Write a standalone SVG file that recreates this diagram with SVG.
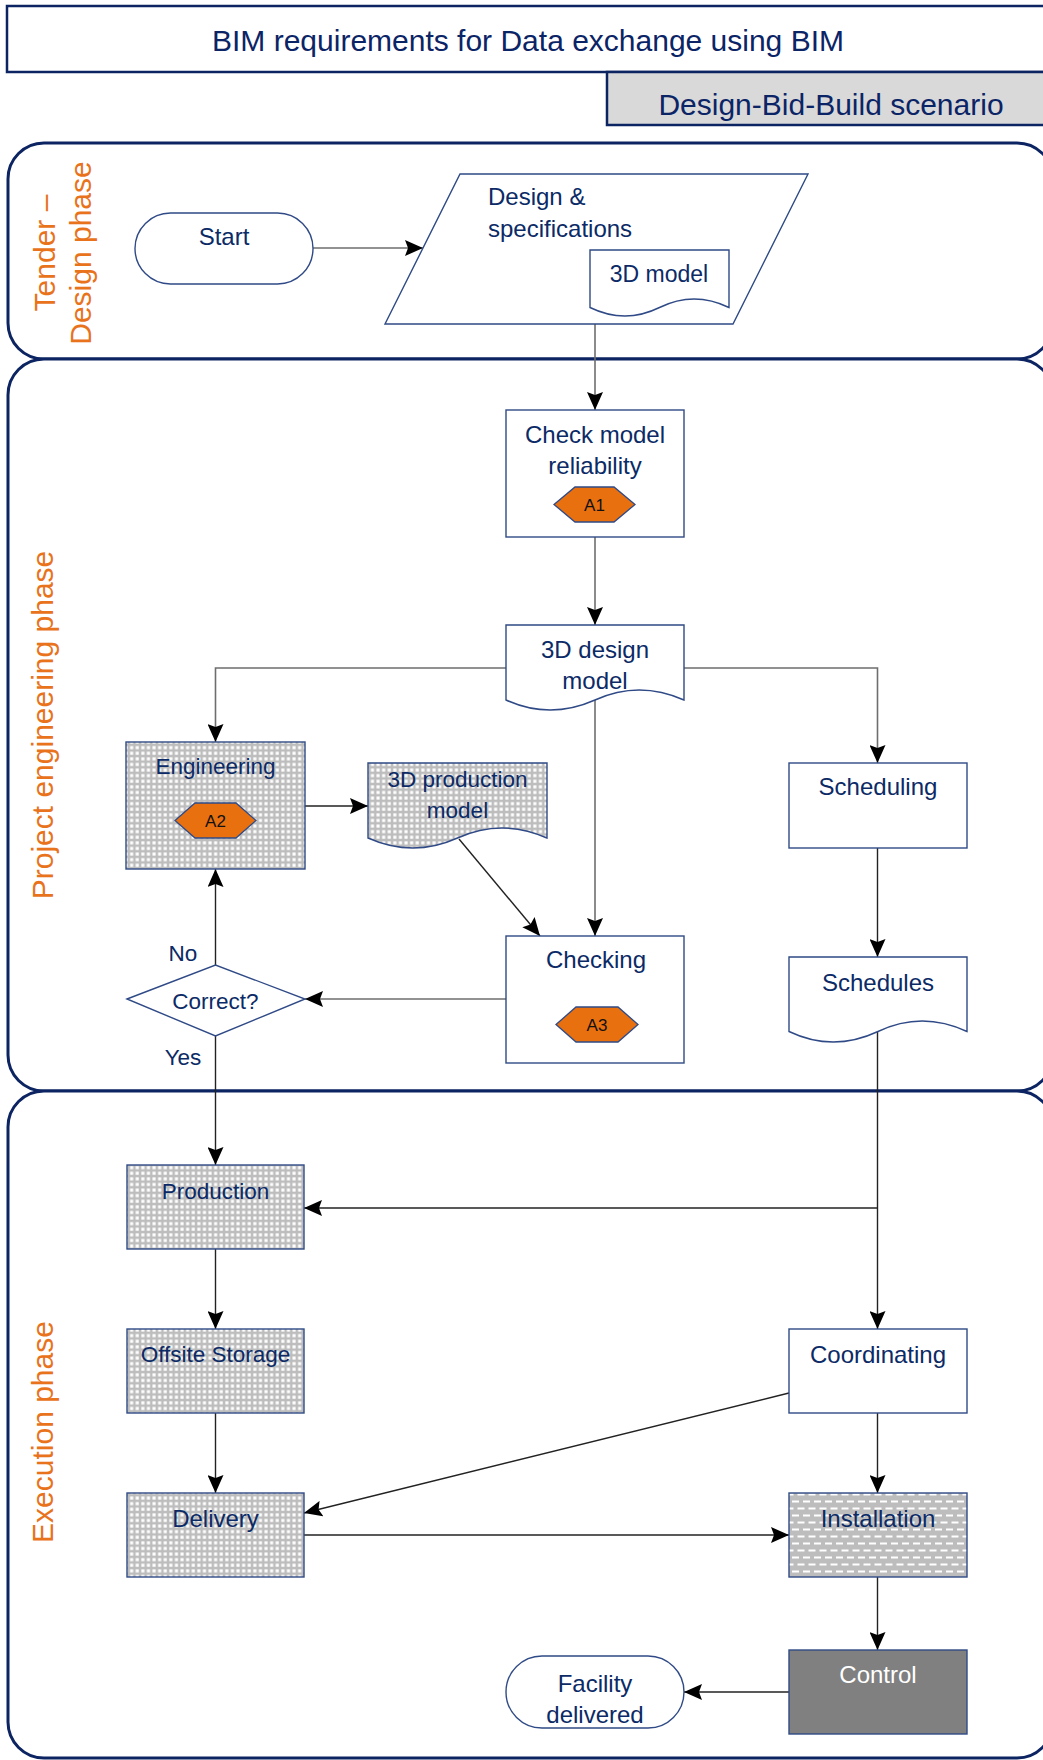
<svg xmlns="http://www.w3.org/2000/svg" width="1043" height="1760" viewBox="0 0 1043 1760">
  <defs>
    <style>
      .lane { fill: #fff; stroke: #0c2461; stroke-width: 3; }
      .lane-label { font-family: "Liberation Sans", Arial, sans-serif; font-size: 30px; fill: #e8731c; text-anchor: middle; }
      .head { font-family: "Liberation Sans", Arial, sans-serif; font-size: 30px; fill: #0b2466; text-anchor: middle; }
      .box { fill: #fff; stroke: #2f4a86; stroke-width: 1.4; }
      .dots { fill: url(#dots); stroke: #2f4a86; stroke-width: 1.4; }
      .dashes { fill: url(#dashes); stroke: #2f4a86; stroke-width: 1.4; }
      .dark { fill: #808080; stroke: #2f4a86; stroke-width: 1.4; }
      .hex { fill: #e8700f; stroke: #2f4a86; stroke-width: 1.3; }
      .t { font-family: "Liberation Sans", Arial, sans-serif; font-size: 24px; fill: #0b2a66; text-anchor: middle; }
      .ts { font-size: 22.5px; }
      .tl { text-anchor: start; }
      .tw { fill: #fff; }
      .tag { font-family: "Liberation Sans", Arial, sans-serif; font-size: 17px; fill: #111; text-anchor: middle; }
      .c { fill: none; stroke: #222; stroke-width: 1.4; }
      .g { fill: none; stroke: #6e6e6e; stroke-width: 1.6; }
    </style>
    <pattern id="dots" width="5.6" height="5.6" patternUnits="userSpaceOnUse">
      <rect width="5.6" height="5.6" fill="#bdbdbd"/>
      <rect x="1.3" y="1.3" width="3.1" height="3.1" fill="#fff"/>
    </pattern>
    <pattern id="dashes" width="11" height="14" patternUnits="userSpaceOnUse">
      <rect width="11" height="14" fill="#bdbdbd"/>
      <rect x="0" y="2.5" width="7" height="2" fill="#fff"/>
      <rect x="5.5" y="9.5" width="5.5" height="2" fill="#fff"/>
      <rect x="0" y="9.5" width="1.5" height="2" fill="#fff"/>
    </pattern>
    <marker id="ah" markerWidth="18" markerHeight="16" refX="18" refY="8" orient="auto" markerUnits="userSpaceOnUse">
      <path d="M0,0 L18,8 L0,16 L3,8 Z" fill="#000"/>
    </marker>
  </defs>

  <rect width="1043" height="1760" fill="#fff"/>

  <!-- heading -->
  <g id="title">
    <rect x="7" y="6" width="1045" height="66" fill="#fff" stroke="#0c2461" stroke-width="2.5"/>
    <text class="head" x="528" y="51">BIM requirements for Data exchange using BIM</text>
  </g>
  <g id="scenario">
    <rect x="607" y="72" width="445" height="53" fill="#d9d9d9" stroke="#0c2461" stroke-width="2.5"/>
    <text class="head" x="831" y="115">Design-Bid-Build scenario</text>
  </g>

  <!-- swimlanes -->
  <g id="lanes">
    <path class="lane" d="M8,179 A36,36 0 0 1 44,143 H1017 A36,36 0 0 1 1053,179 V323 A36,36 0 0 1 1017,359 H44 A36,36 0 0 1 8,323 Z"/>
    <path class="lane" d="M8,395 A36,36 0 0 1 44,359 H1017 A36,36 0 0 1 1053,395 V1055 A36,36 0 0 1 1017,1091 H44 A36,36 0 0 1 8,1055 Z"/>
    <path class="lane" d="M8,1127 A36,36 0 0 1 44,1091 H1017 A36,36 0 0 1 1053,1127 V1722 A36,36 0 0 1 1017,1758 H44 A36,36 0 0 1 8,1722 Z"/>
    <text class="lane-label" transform="translate(55,253) rotate(-90)">Tender –</text>
    <text class="lane-label" transform="translate(91,253) rotate(-90)">Design phase</text>
    <text class="lane-label" transform="translate(53,725) rotate(-90)">Project engineering phase</text>
    <text class="lane-label" transform="translate(53,1432) rotate(-90)">Execution phase</text>
  </g>

  <!-- connectors -->
  <g id="connectors">
    <path class="g" d="M313,248 H423" marker-end="url(#ah)"/>
    <path class="g" d="M595,324 V410" marker-end="url(#ah)"/>
    <path class="g" d="M595,537 V625" marker-end="url(#ah)"/>
    <path class="g" d="M506,668 H215.5 V742" marker-end="url(#ah)"/>
    <path class="g" d="M684,668 H877.5 V763" marker-end="url(#ah)"/>
    <path class="g" d="M595,700 V936" marker-end="url(#ah)"/>
    <path class="c" d="M305,806 H368" marker-end="url(#ah)"/>
    <path class="c" d="M459,839 L540,936" marker-end="url(#ah)"/>
    <path class="g" d="M506,999 H305" marker-end="url(#ah)"/>
    <path class="c" d="M215.5,965 V869" marker-end="url(#ah)"/>
    <path class="c" d="M877.5,848 V957" marker-end="url(#ah)"/>
    <path class="c" d="M215.5,1036 V1165" marker-end="url(#ah)"/>
    <path class="c" d="M877.5,1031 V1329" marker-end="url(#ah)"/>
    <path class="c" d="M877.5,1208 H304" marker-end="url(#ah)"/>
    <path class="c" d="M215.5,1249 V1329" marker-end="url(#ah)"/>
    <path class="c" d="M215.5,1413 V1493" marker-end="url(#ah)"/>
    <path class="c" d="M789,1393 L304,1513" marker-end="url(#ah)"/>
    <path class="c" d="M304,1535 H789" marker-end="url(#ah)"/>
    <path class="c" d="M877.5,1413 V1493" marker-end="url(#ah)"/>
    <path class="c" d="M877.5,1577 V1650" marker-end="url(#ah)"/>
    <path class="c" d="M789,1692 H684" marker-end="url(#ah)"/>
  </g>

  <!-- nodes -->
  <g id="start">
    <rect class="box" x="135" y="213" width="178" height="71" rx="35.5"/>
    <text class="t" x="224" y="245">Start</text>
  </g>

  <g id="design-specs">
    <path class="box" d="M460,174 H808 L733,324 H385 Z"/>
    <text class="t tl" x="488" y="205">Design &amp;</text>
    <text class="t tl" x="488" y="237">specifications</text>
  </g>

  <g id="model-3d">
    <path class="box" d="M590,250 H729 V307.5 Q694,290.5 659.5,307.5 Q625,324.5 590,307.5 Z"/>
    <text class="t" x="659" y="282" style="font-size:23px">3D model</text>
  </g>

  <g id="check-reliability">
    <rect class="box" x="506" y="410" width="178" height="127"/>
    <text class="t" x="595" y="443">Check model</text>
    <text class="t" x="595" y="474">reliability</text>
    <path class="hex" d="M554,504.5 L575,487 H614 L635,504.5 L614,522 H575 Z"/>
    <text class="tag" x="594.5" y="511">A1</text>
  </g>

  <g id="design-model">
    <path class="box" d="M506,625 H684 V700 Q639,680 595,700 Q550,720 506,700 Z"/>
    <text class="t" x="595" y="658">3D design</text>
    <text class="t" x="595" y="689">model</text>
  </g>

  <g id="engineering">
    <rect class="dots" x="126" y="742" width="179" height="127"/>
    <text class="t ts" x="215.5" y="774">Engineering</text>
    <path class="hex" d="M175,820.5 L195,803 H236 L256,820.5 L236,838 H195 Z"/>
    <text class="tag" x="215.5" y="827">A2</text>
  </g>

  <g id="production-model">
    <path class="dots" d="M368,763 H547 V838 Q502,818 457.5,838 Q413,858 368,838 Z"/>
    <text class="t ts" x="457.5" y="787">3D production</text>
    <text class="t ts" x="457.5" y="818">model</text>
  </g>

  <g id="checking">
    <rect class="box" x="506" y="936" width="178" height="127"/>
    <text class="t" x="596" y="968">Checking</text>
    <path class="hex" d="M556,1024.5 L576,1007 H618 L638,1024.5 L618,1042 H576 Z"/>
    <text class="tag" x="597" y="1031">A3</text>
  </g>

  <g id="correct">
    <path class="box" d="M127,999 L215.5,965 L305,999 L215.5,1036 Z"/>
    <text class="t ts" x="215.5" y="1009">Correct?</text>
    <text class="t ts" x="183" y="961">No</text>
    <text class="t ts" x="183" y="1065">Yes</text>
  </g>

  <g id="scheduling">
    <rect class="box" x="789" y="763" width="178" height="85"/>
    <text class="t" x="878" y="795">Scheduling</text>
  </g>

  <g id="schedules">
    <path class="box" d="M789,957 H967 V1031.5 Q922,1010.5 878,1031.5 Q833,1052.5 789,1031.5 Z"/>
    <text class="t" x="878" y="991">Schedules</text>
  </g>

  <g id="production">
    <rect class="dots" x="127" y="1165" width="177" height="84"/>
    <text class="t ts" x="215.5" y="1199">Production</text>
  </g>

  <g id="offsite-storage">
    <rect class="dots" x="127" y="1329" width="177" height="84"/>
    <text class="t ts" x="215.5" y="1362">Offsite Storage</text>
  </g>

  <g id="delivery">
    <rect class="dots" x="127" y="1493" width="177" height="84"/>
    <text class="t" x="215.5" y="1527">Delivery</text>
  </g>

  <g id="coordinating">
    <rect class="box" x="789" y="1329" width="178" height="84"/>
    <text class="t" x="878" y="1363">Coordinating</text>
  </g>

  <g id="installation">
    <rect class="dashes" x="789" y="1493" width="178" height="84"/>
    <text class="t" x="878" y="1527">Installation</text>
  </g>

  <g id="control">
    <rect class="dark" x="789" y="1650" width="178" height="84"/>
    <text class="t tw" x="878" y="1683">Control</text>
  </g>

  <g id="facility-delivered">
    <rect class="box" x="506" y="1656" width="178" height="72" rx="36"/>
    <text class="t" x="595" y="1692">Facility</text>
    <text class="t" x="595" y="1723">delivered</text>
  </g>
</svg>
